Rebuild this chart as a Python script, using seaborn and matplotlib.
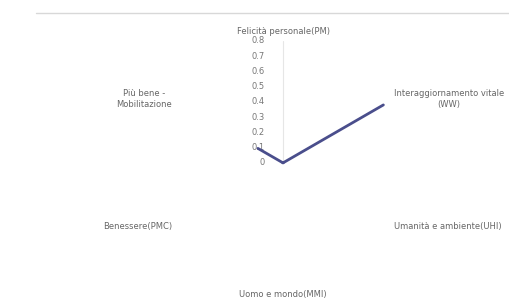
import numpy as np
import pandas as pd
import seaborn as sns
import matplotlib.pyplot as plt
import matplotlib.transforms as mtransforms
from matplotlib.lines import Line2D

# 6 axes, clockwise from the top
categories = ["Felicità personale(PM)", "Interaggiornamento vitale\n(WW)",
              "Umanità e ambiente(UHI)", "Uomo e mondo(MMI)",
              "Benessere(PMC)", "Più bene -\nMobilitazione"]
values = [0.0, 0.76, np.nan, np.nan, np.nan, 0.19]
r_ticks = [0, 0.1, 0.2, 0.3, 0.4, 0.5, 0.6, 0.7, 0.8]
r_tick_labels = ["0", "0.1", "0.2", "0.3", "0.4", "0.5", "0.6", "0.7", "0.8"]

sns.set_theme(style="white")
plt.rcParams['font.family'] = ['DejaVu Sans']

df = pd.DataFrame({'cat': categories, 'val': values})
n = len(df)
df['theta'] = np.arange(n) * 2 * np.pi / n

fig = plt.figure(figsize=(5.09, 3.05), dpi=100)
ax = fig.add_axes([0.316, 0.066, 0.48, 0.8], projection='polar')
ax.set_theta_offset(np.pi / 2)
ax.set_theta_direction(-1)

# close the polygon: last point back to first
closed = pd.concat([df, df.iloc[[0]]], ignore_index=True)
closed.loc[closed.index[-1], 'theta'] = 2 * np.pi
ax.plot(closed['theta'], closed['val'], color='#4a4e8c', lw=2, solid_capstyle='round')

ax.set_ylim(0, 0.8)
ax.set_yticks(r_ticks)
ax.set_yticklabels(r_tick_labels, fontsize=6, color='#777777')
ax.set_rlabel_position(0)
off = mtransforms.ScaledTranslation(-13 / 72, 0, fig.dpi_scale_trans)
for lab in ax.get_yticklabels():
    lab.set_ha('right')
    lab.set_va('center')
    lab.set_transform(lab.get_transform() + off)

ax.set_xticks(df['theta'])
ax.set_xticklabels([])
ax.grid(False)
ax.spines['polar'].set_visible(False)
ax.set_facecolor('white')

# faint top spoke only
ax.plot([0, 0], [0, 0.8], color='#e6e6e6', lw=0.8, zorder=0)

# category labels
for th, cat in zip(df['theta'], df['cat']):
    s = np.sin(th)
    if s > 0.1:
        ax.text(th, 0.84, cat, ha='left', va='center', fontsize=6,
                color='#666666', multialignment='center')
    elif s < -0.1:
        ax.text(th, 0.84, cat, ha='right', va='center', fontsize=6,
                color='#666666', multialignment='center')
    else:
        ax.text(th, 0.86, cat, ha='center', va='center', fontsize=6,
                color='#666666')

fig.add_artist(Line2D([0.07, 1.0], [0.957, 0.957], color='#d8d8d8', lw=1))

fig.savefig('out.png', dpi=100)
